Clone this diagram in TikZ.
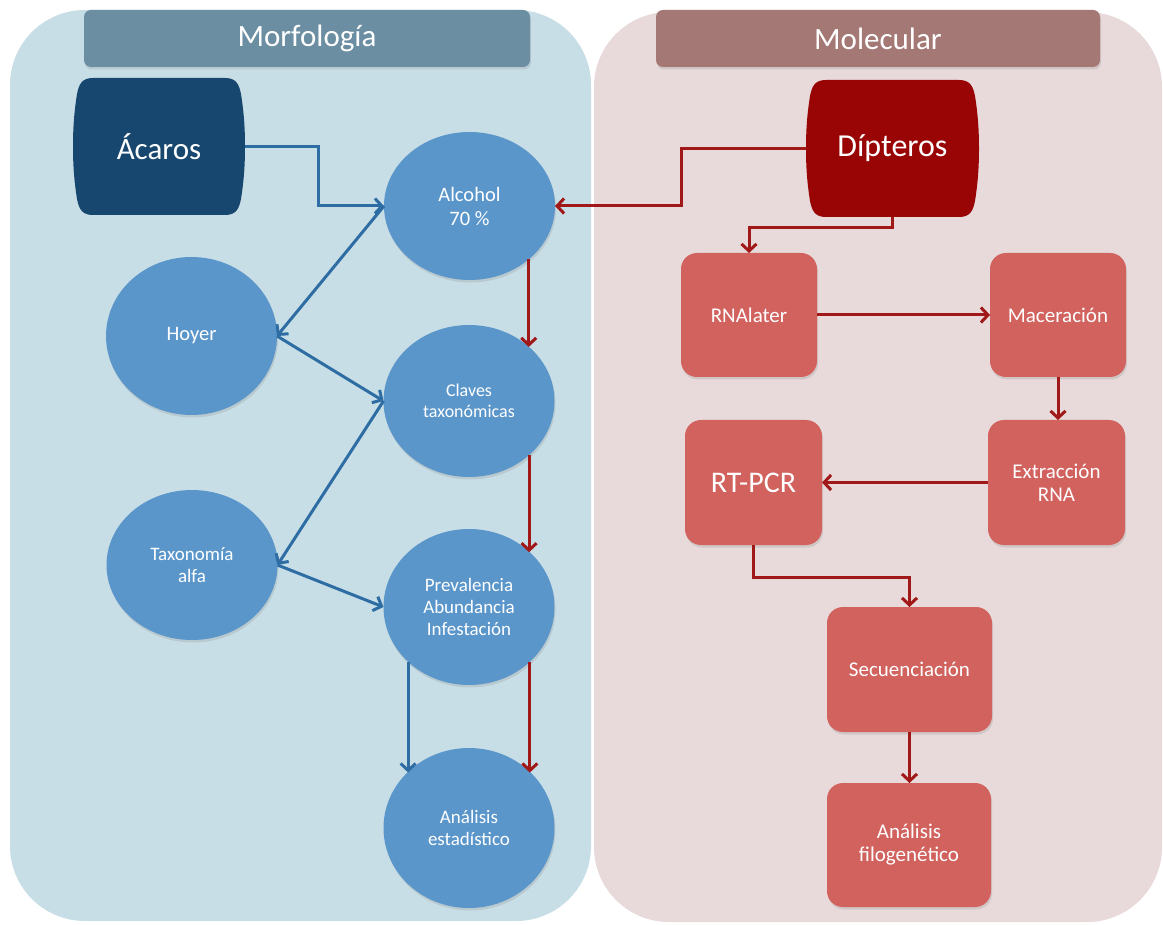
\documentclass[tikz,border=0pt]{standalone}
\usepackage{fontspec}
\setmainfont{Carlito}
\usetikzlibrary{arrows.meta,shapes.geometric,shadows}
\definecolor{panelL}{HTML}{C8DEE6}
\definecolor{panelR}{HTML}{E8DADA}
\definecolor{hdrL}{HTML}{6B8EA2}
\definecolor{hdrR}{HTML}{A47875}
\definecolor{navy}{HTML}{17476F}
\definecolor{darkred}{HTML}{990505}
\definecolor{circfill}{HTML}{5B96CB}
\definecolor{boxfill}{HTML}{D1625E}
\definecolor{blueline}{HTML}{2E6DA4}
\definecolor{redline}{HTML}{A01818}
\newcommand\mybarrel[2]{%
\fill[#2] ([xshift=20pt]#1.north west) -- ([xshift=-20pt]#1.north east)
 .. controls ([xshift=-9pt]#1.north east) and ([xshift=-6pt,yshift=-6pt]#1.north east) .. ([xshift=-4pt,yshift=-16pt]#1.north east)
 .. controls ([xshift=-1pt,yshift=-35pt]#1.north east) and ([yshift=18pt]#1.east) .. (#1.east)
 .. controls ([yshift=-18pt]#1.east) and ([xshift=-1pt,yshift=35pt]#1.south east) .. ([xshift=-4pt,yshift=16pt]#1.south east)
 .. controls ([xshift=-6pt,yshift=6pt]#1.south east) and ([xshift=-9pt]#1.south east) .. ([xshift=-20pt]#1.south east)
 -- ([xshift=20pt]#1.south west)
 .. controls ([xshift=9pt]#1.south west) and ([xshift=6pt,yshift=6pt]#1.south west) .. ([xshift=4pt,yshift=16pt]#1.south west)
 .. controls ([xshift=1pt,yshift=35pt]#1.south west) and ([yshift=-18pt]#1.west) .. (#1.west)
 .. controls ([yshift=18pt]#1.west) and ([xshift=1pt,yshift=-35pt]#1.north west) .. ([xshift=4pt,yshift=-16pt]#1.north west)
 .. controls ([xshift=6pt,yshift=-6pt]#1.north west) and ([xshift=9pt]#1.north west) .. cycle;}
\tikzset{
  softshadow/.style={drop shadow={opacity=0.22,shadow xshift=1pt,shadow yshift=-2.5pt}},
  hdr/.style={rectangle,rounded corners=7pt,text=white,inner sep=0pt,outer sep=0pt,
    minimum height=57pt,font=\fontsize{31}{34}\selectfont,softshadow},
  barrelshape/.style={rectangle,inner sep=0pt,outer sep=0pt,text=white,
    path picture={\mybarrel{path picture bounding box}{#1}}},
  circ/.style={ellipse,fill=circfill,minimum width=171pt,inner sep=0pt,outer sep=0pt,
    text=white,align=center,font=\fontsize{20.5}{24}\selectfont,softshadow},
  rbox/.style={rectangle,rounded corners=16pt,fill=boxfill,inner sep=0pt,outer sep=0pt,
    text=white,align=center,font=\fontsize{21}{23}\selectfont,softshadow},
  barrow/.style={draw=blueline,line width=3pt,-{Straight Barb[length=7pt,width=15pt]}},
  rarrow/.style={draw=redline,line width=3pt,-{Straight Barb[length=7pt,width=15pt]}}
}
\begin{document}
\begin{tikzpicture}[x=1pt,y=-1pt]
\useasboundingbox (0,0) rectangle (1163,925);
\fill[white] (0,0) rectangle (1163,925);
% panels
\fill[panelL,rounded corners=75pt] (10,10) rectangle (591,921);
\fill[panelR,rounded corners=75pt] (594,12) rectangle (1162,922);
% headers
\node[hdr,fill=hdrL,minimum width=446pt] (morf) at (307,38.5) {Morfología};
\node[hdr,fill=hdrR,minimum width=444pt] (molec) at (878,38.5) {Molecular};
% source nodes
\node[barrelshape=navy,minimum width=172pt,minimum height=137pt,font=\fontsize{31}{33}\selectfont] (acaros) at (159,146.5) {Ácaros};
\node[barrelshape=darkred,minimum width=173pt,minimum height=137pt,font=\fontsize{32}{34}\selectfont] (dip) at (892.5,148.5) {Dípteros};
% circles
\node[circ,minimum height=148pt] (alc) at (469.5,206) {Alcohol\\70 \%};
\node[circ,minimum height=158pt] (hoyer) at (191.5,336) {Hoyer};
\node[circ,minimum height=152pt,font=\fontsize{18}{21}\selectfont] (claves) at (469,401) {Claves\\taxonómicas};
\node[circ,minimum height=150pt,font=\fontsize{19}{22}\selectfont] (tax) at (192,565) {Taxonomía\\alfa};
\node[circ,minimum height=156pt,font=\fontsize{19}{22}\selectfont] (prev) at (469,607) {Prevalencia\\Abundancia\\Infestación};
\node[circ,minimum height=160pt,font=\fontsize{19}{22.5}\selectfont] (ana) at (469,828) {Análisis\\estadístico};
% boxes
\node[rbox,minimum width=136pt,minimum height=124pt] (rna) at (749,315) {RNAlater};
\node[rbox,minimum width=136pt,minimum height=124pt] (mac) at (1058,315) {Maceración};
\node[rbox,minimum width=137pt,minimum height=125pt] (ext) at (1056.5,482.5) {Extracción\\RNA};
\node[rbox,minimum width=137pt,minimum height=125pt,font=\fontsize{30}{33}\selectfont] (rt) at (753.5,482.5) {RT-PCR};
\node[rbox,minimum width=165pt,minimum height=125pt] (sec) at (909.5,669.5) {Secuenciación};
\node[rbox,minimum width=164pt,minimum height=124pt] (fil) at (909,845) {Análisis\\filogenético};
% blue connectors
\draw[barrow] (acaros.east) -- ++(73,0) |- (alc.west);
\draw[barrow] (alc.west) -- (hoyer.east);
\draw[barrow] (hoyer.east) -- (claves.west);
\draw[barrow] (claves.west) -- (tax.east);
\draw[barrow] (tax.east) -- (prev.west);
\draw[barrow] (prev.222) -- (prev.222 |- ana.138);
% red connectors (left panel)
\draw[rarrow] (dip.west) -- ++(-125,0) |- (alc.east);
\draw[rarrow] (alc.-42) -- (alc.-42 |- claves.42);
\draw[rarrow] (claves.-42) -- (claves.-42 |- prev.42);
\draw[rarrow] (prev.-42) -- (prev.-42 |- ana.42);
% red connectors (right panel)
\draw[rarrow] (dip.south) -- ++(0,11) -| (rna.north);
\draw[rarrow] (rna.east) -- (mac.west);
\draw[rarrow] (mac.south) -- (mac.south |- ext.north);
\draw[rarrow] (ext.west) -- (rt.east);
\draw[rarrow] (rt.south) -- ++(0,32) -| (sec.north);
\draw[rarrow] (sec.south) -- (sec.south |- fil.north);
\end{tikzpicture}
\end{document}
